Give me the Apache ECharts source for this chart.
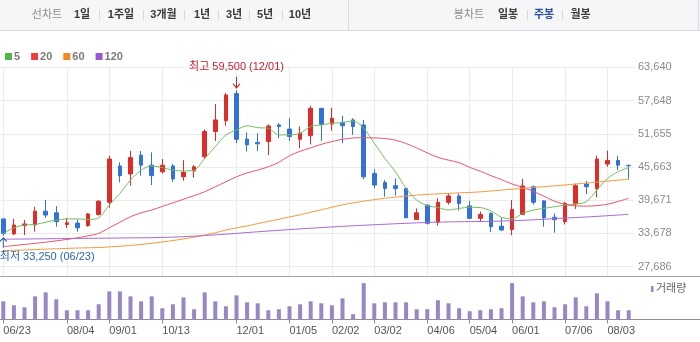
<!DOCTYPE html>
<html>
<head>
<meta charset="utf-8">
<script src="https://cdn.jsdelivr.net/npm/echarts@6.0.0/dist/echarts.min.js"></script>
<style>
  html, body { margin: 0; padding: 0; background: #ffffff; }
  #chart { width: 700px; height: 342px; }
</style>
</head>
<body>
<div id="chart"></div>
<script>
// Weekly candles (week starting date), 2014-06-23 .. 2015-08-17
const dates = [
  '06/23','06/30','07/07','07/14','07/21','07/28','08/04','08/11','08/18','08/25',
  '09/01','09/15','09/22','09/29','10/06','10/13','10/20','10/27','11/03','11/10',
  '11/17','11/24','12/01','12/08','12/15','12/22','12/29','01/05','01/12','01/19',
  '01/26','02/02','02/09','02/16','02/23','03/02','03/09','03/16','03/23','03/30',
  '04/06','04/13','04/20','04/27','05/04','05/11','05/18','05/25','06/01','06/08',
  '06/15','06/22','06/29','07/06','07/13','07/20','07/27','08/03','08/10','08/17'
];

const opens = [
  36300,33600,35100,35200,37700,37400,35300,35550,35100,37100,
  39300,45850,44400,47800,46000,44800,45850,43900,44950,47500,
  52050,54000,58900,50700,50100,50250,53250,52500,50650,51300,
  56250,53400,53650,54150,53250,44500,42850,42300,41800,36200,
  38800,35700,39300,40450,38650,36400,37300,35000,34400,37100,
  42100,39550,36600,35800,39000,42600,41800,46200,46850,45950
];
const closes = [
  33700,35200,35400,37700,37000,35800,35600,34700,37200,39500,
  47100,44100,47350,46000,44100,46000,43500,44700,45700,52050,
  54150,58650,50650,49650,49850,53050,52950,51150,51750,56250,
  53350,54450,53100,52950,43900,42400,41800,41800,36500,37400,
  35500,39300,40450,39100,36400,37100,34900,34300,38000,42250,
  39300,36500,36150,39100,42300,42100,47100,46850,46000,45900
];
const lows = [
  33250,33400,33400,34000,36500,34900,34700,34000,34900,36900,
  38300,42900,42300,44100,42400,44500,43000,43200,43750,47100,
  50350,53100,49950,48450,48550,47800,50850,50350,49050,49750,
  50350,52200,49950,51450,43450,41800,40300,40500,36500,36200,
  35300,35100,38900,37800,36400,35800,33900,34100,33350,37000,
  38900,34900,33800,35300,38100,40800,40200,45700,45100,43450
];
const highs = [
  36400,36300,36100,38500,39700,38600,36500,36200,37400,39700,
  47700,46500,48550,48550,48300,47100,46200,46900,46000,52450,
  57000,59000,59500,51900,51750,53350,53550,54450,52950,56700,
  56300,56350,54900,54450,54150,45250,43300,43600,41950,38200,
  38800,40000,40900,40900,39550,37600,37500,36500,39700,43500,
  42300,39700,37300,39400,42650,43150,47700,48600,47700,46100
];

const volumes = [
  550000,430000,370000,700000,820000,610000,280000,280000,280000,460000,
  850000,850000,700000,550000,700000,340000,460000,670000,310000,820000,
  550000,400000,730000,520000,490000,280000,310000,400000,460000,550000,
  490000,430000,640000,160000,1100000,490000,520000,520000,520000,310000,
  310000,580000,490000,340000,250000,280000,310000,340000,1100000,700000,
  520000,550000,370000,460000,670000,400000,790000,550000,280000,280000
];

// Moving averages (5 / 20 / 60 / 120 weeks)
const ma5 = [
  33700,34700,35200,35300,35700,36100,36300,36300,36200,36500,
  38800,40900,43300,45100,45850,45550,45100,44950,45100,47200,
  49350,51450,52350,53100,52750,52650,51450,51450,51750,52950,
  53250,53550,53700,53950,52650,49950,47200,44800,41800,39700,
  38700,38350,37900,38200,38400,38350,37750,36600,36300,37300,
  37900,38200,38500,38800,39000,39400,41500,43600,44800,45550
];
const ma20 = [
  31300,31500,31700,31900,32100,32350,32600,32900,33250,33700,
  34700,35700,36700,37400,37900,38550,39200,39850,40500,41200,
  42100,43000,43900,44600,45100,45700,46500,47700,48500,49100,
  49750,50250,50650,50900,50950,50900,50800,50500,49900,49100,
  48200,47400,46900,46450,45600,44900,44100,43400,42600,42000,
  41250,40400,39500,38900,38650,38600,38700,38950,39450,40020
];
const ma60 = [
  30600,30650,30700,30780,30850,30920,30990,31050,31100,31150,
  31250,31380,31520,31700,31900,32150,32400,32700,33000,33400,
  33800,34300,34700,35050,35450,35850,36250,36650,37050,37500,
  37950,38400,38850,39200,39500,39780,40030,40230,40420,40600,
  40720,40820,40900,41000,41070,41180,41330,41500,41660,41800,
  41960,42110,42270,42420,42600,42770,42950,43120,43280,43440
];
const ma120 = [
  32640,32660,32680,32700,32720,32740,32760,32780,32800,32820,
  32840,32860,32880,32900,32920,32960,33020,33100,33200,33310,
  33430,33560,33700,33840,33980,34120,34250,34380,34500,34620,
  34740,34850,34960,35060,35160,35250,35340,35430,35510,35590,
  35660,35720,35760,35790,35810,35830,35870,35920,35980,36050,
  36140,36240,36350,36450,36550,36650,36760,36880,37000,37130
];

// Axis ticks
const xTickLabels = ['06/23','08/04','09/01','10/13','12/01','01/05','02/02',
                     '03/02','04/06','05/04','06/01','07/06','08/03'];
const yTickLabels = ['27,686','33,678','39,671','45,663','51,655','57,648','63,640'];
const priceMin = 27686;
const priceMax = 63640;
const volumeAxisMax = 1300000;

const maNames = ['5', '20', '60', '120'];
const maSeries = [ma5, ma20, ma60, ma120];

// ---- styling ----
const FONT = "'Liberation Sans', 'Noto Sans CJK KR', sans-serif";
const UP = '#dd2c2c';
const DOWN = '#3371d6';
const VOL = '#9886c5';
const GRID_LINE = '#ebebeb';
const MA_LEGEND = ['#4db848', '#e8403f', '#f08a24', '#9a58cc'];
const MA_LINE = ['#72bd5a', '#e7566b', '#f39a3e', '#a46bd2'];
const HI_COLOR = '#c4232b';
const LO_COLOR = '#2d66ad';

// plot area: first / last week centres
const PLOT_LEFT = 3.3;
const PLOT_RIGHT = 71.3;

const isTick = (idx, val) => xTickLabels.indexOf(val) !== -1;
const fmt = v => v.toLocaleString('en-US');

const candleData = dates.map((d, i) => [opens[i], closes[i], lows[i], highs[i]]);

let hiIdx = 0, loIdx = 0;
highs.forEach((h, i) => { if (h > highs[hiIdx]) hiIdx = i; });
lows.forEach((l, i) => { if (l < lows[loIdx]) loIdx = i; });

const ARROW_DOWN = 'path://M4,0 L4,11 M0.5,7 L4,11 L7.5,7';
const ARROW_UP = 'path://M4,11 L4,0 M0.5,4 L4,0 L7.5,4';

const chart = echarts.init(document.getElementById('chart'), null, { renderer: 'canvas' });

// toolbar
const toolbarItems = [
  { t: '선차트', x: 47, kind: 'title' },
  { t: '1일', x: 82 }, { sep: 99.5 },
  { t: '1주일', x: 121 }, { sep: 143.5 },
  { t: '3개월', x: 163.5 }, { sep: 184.5 },
  { t: '1년', x: 202 }, { sep: 218.5 },
  { t: '3년', x: 234 }, { sep: 249.5 },
  { t: '5년', x: 265 }, { sep: 282.5 },
  { t: '10년', x: 300 },
  { t: '봉차트', x: 469, kind: 'title' },
  { t: '일봉', x: 508 }, { sep: 527.5 },
  { t: '주봉', x: 544, kind: 'active' }, { sep: 562.5 },
  { t: '월봉', x: 580.5 }
];
const graphics = [
  { type: 'rect', left: 0, top: 0, shape: { x: 0, y: 0, width: 700, height: 30 }, style: { fill: '#f5f6f8' }, silent: true },
  { type: 'line', shape: { x1: 0, y1: 30.5, x2: 700, y2: 30.5 }, style: { stroke: '#d8dade', lineWidth: 1 }, silent: true },
  { type: 'line', shape: { x1: 348.5, y1: 0, x2: 348.5, y2: 30 }, style: { stroke: '#dcdde1', lineWidth: 1 }, silent: true },
  { type: 'line', shape: { x1: 698.5, y1: 0, x2: 698.5, y2: 30 }, style: { stroke: '#dcdde1', lineWidth: 1 }, silent: true }
];
toolbarItems.forEach(it => {
  if (it.sep !== undefined) {
    graphics.push({ type: 'line', shape: { x1: it.sep, y1: 10, x2: it.sep, y2: 20 },
      style: { stroke: '#d9d9d9', lineWidth: 1 }, silent: true });
  } else {
    const color = it.kind === 'title' ? '#8c8c8c' : (it.kind === 'active' ? '#2b4ea3' : '#3a3a3a');
    graphics.push({ type: 'text', x: it.x, y: 15, silent: true,
      style: { text: it.t, fill: color, font: (it.kind === 'title' ? 'normal ' : 'bold ') + '11px ' + FONT,
               textAlign: 'center', textVerticalAlign: 'middle' } });
  }
});
// volume panel frame and legend
graphics.push(
  { type: 'line', shape: { x1: 0, y1: 276.5, x2: 700, y2: 276.5 }, style: { stroke: '#a3a3a3', lineWidth: 1 }, silent: true },
  { type: 'line', shape: { x1: 0, y1: 319.5, x2: 700, y2: 319.5 }, style: { stroke: '#8f8f8f', lineWidth: 1 }, silent: true },
  { type: 'rect', shape: { x: 651, y: 286, width: 2.5, height: 6 }, style: { fill: VOL }, silent: true },
  { type: 'text', x: 656, y: 289, silent: true,
    style: { text: '거래량', fill: '#666666', font: '11px ' + FONT, textAlign: 'left', textVerticalAlign: 'middle' } }
);

const option = {
  animation: false,
  backgroundColor: '#ffffff',
  textStyle: { fontFamily: FONT },
  legend: {
    left: 0, top: 46, icon: 'rect', itemWidth: 7, itemHeight: 7, itemGap: 11,
    selectedMode: false,
    data: maNames,
    textStyle: { color: '#7a7a7a', fontSize: 11, fontWeight: 'bold', fontFamily: FONT, padding: [0, 0, 0, -3] }
  },
  grid: [
    { left: PLOT_LEFT, right: PLOT_RIGHT, top: 67.3, bottom: 75.3 },   // prices
    { left: PLOT_LEFT, right: PLOT_RIGHT, top: 276.5, bottom: 22.5 },  // volume
    { left: PLOT_LEFT, right: PLOT_RIGHT, top: 67.3, bottom: 66 },     // vertical guides
    { left: 0, right: 66, top: 67.3, bottom: 75.3 }                    // price guides + labels
  ],
  xAxis: [
    { type: 'category', gridIndex: 0, data: dates, boundaryGap: false, show: false },
    { type: 'category', gridIndex: 1, data: dates, boundaryGap: false,
      axisLine: { show: false },
      axisTick: { show: true, interval: isTick, length: 4, lineStyle: { color: '#8a8a8a' } },
      axisLabel: { interval: isTick, align: 'left', color: '#555555', fontSize: 11, margin: 6, fontFamily: FONT },
      splitLine: { show: false } },
    { type: 'category', gridIndex: 2, data: dates, boundaryGap: false,
      axisLine: { show: false }, axisTick: { show: false }, axisLabel: { show: false },
      splitLine: { show: true, interval: isTick, lineStyle: { color: GRID_LINE, width: 1 } } },
    { type: 'value', gridIndex: 3, min: 0, max: 1, show: false }
  ],
  yAxis: [
    { type: 'value', gridIndex: 0, min: priceMin, max: priceMax, show: false },
    { type: 'value', gridIndex: 1, min: 0, max: volumeAxisMax, show: false },
    { type: 'value', gridIndex: 2, min: 0, max: 1, show: false },
    { type: 'value', gridIndex: 3, position: 'right', min: 0, max: yTickLabels.length - 1, interval: 1,
      axisLine: { show: false }, axisTick: { show: false },
      splitLine: { show: true, lineStyle: { color: GRID_LINE, width: 1 } },
      axisLabel: { formatter: v => yTickLabels[v], color: '#8a8a8a', fontSize: 11, margin: 4, align: 'left', fontFamily: FONT } }
  ],
  series: [
    {
      type: 'candlestick', name: 'price', xAxisIndex: 0, yAxisIndex: 0,
      data: candleData, barWidth: 4,
      itemStyle: { color: UP, color0: DOWN, borderColor: UP, borderColor0: DOWN, borderWidth: 1 },
      markPoint: {
        silent: true,
        data: [
          { coord: [dates[hiIdx], highs[hiIdx]], symbol: ARROW_DOWN, symbolSize: [7, 11], symbolOffset: [0, -8],
            itemStyle: { color: 'none', borderColor: HI_COLOR, borderWidth: 1.2 },
            label: { show: true, position: 'top', distance: 1, color: HI_COLOR, fontSize: 11, fontFamily: FONT,
                     formatter: '최고 ' + fmt(highs[hiIdx]) + ' (' + dates[hiIdx] + ')' } },
          { coord: [dates[loIdx], lows[loIdx]], symbol: ARROW_UP, symbolSize: [7, 10], symbolOffset: [0, 7],
            itemStyle: { color: 'none', borderColor: LO_COLOR, borderWidth: 1.2 },
            label: { show: true, position: 'bottom', distance: 1, align: 'left', offset: [-3.5, 0],
                     color: LO_COLOR, fontSize: 11, fontFamily: FONT,
                     formatter: '최저 ' + fmt(lows[loIdx]) + ' (' + dates[loIdx] + ')' } }
        ]
      }
    },
    ...maSeries.map((arr, k) => ({
      type: 'line', name: maNames[k], xAxisIndex: 0, yAxisIndex: 0, data: arr,
      symbol: 'none', showSymbol: false, smooth: 0.3,
      itemStyle: { color: MA_LEGEND[k] },
      lineStyle: { color: MA_LINE[k], width: 1 },
      z: 3
    })),
    {
      type: 'bar', name: '거래량', xAxisIndex: 1, yAxisIndex: 1, data: volumes,
      barWidth: 4, itemStyle: { color: VOL }
    }
  ],
  graphic: graphics
};

chart.setOption(option);
</script>
</body>
</html>
